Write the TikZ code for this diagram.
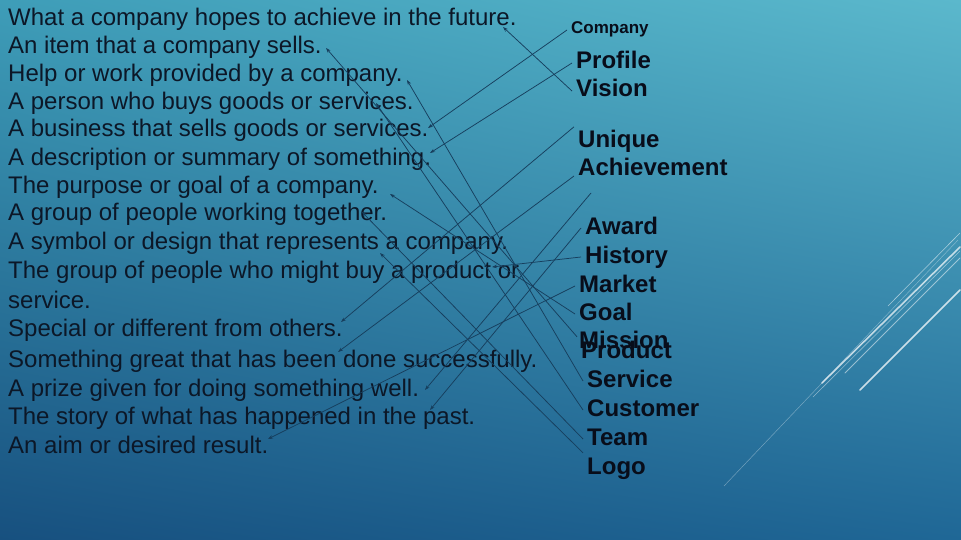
\documentclass[tikz,border=0pt]{standalone}
\usepackage{fontspec}
\setmainfont{Liberation Sans}
\usetikzlibrary{arrows.meta,shadings}

\definecolor{bgul}{HTML}{3E9DB8}
\definecolor{bgur}{HTML}{5BB8CC}
\definecolor{bgll}{HTML}{17507F}
\definecolor{bglr}{HTML}{1F6796}
\definecolor{deftxt}{HTML}{0C1727}
\definecolor{wordtxt}{HTML}{080D1A}
\definecolor{linecol}{HTML}{173F5E}

\tikzset{
  defn/.style={anchor=base west, inner sep=0pt, text=deftxt, font=\fontsize{24}{26}\selectfont},
  word/.style={anchor=base west, inner sep=4pt, text height=17pt, text depth=5pt, text=wordtxt, font=\bfseries\fontsize{24}{26}\selectfont},
  link/.style={draw=linecol, line width=0.75pt},
  deco/.style={draw=white, line cap=round}
}

\begin{document}
\begin{tikzpicture}[x=1pt, y=-1pt, >={Stealth[length=5pt,width=3.5pt]}]
	\useasboundingbox (0,0) rectangle (961,540);
	\shade [upper left=bgul, upper right=bgur, lower left=bgll, lower right=bglr] (0,0) rectangle (961,540);

	% decoration bottom right
	\draw [deco, opacity=0.55, line width=0.6pt] (960,233) -- (888,306);
	\draw [deco, opacity=0.7, line width=1.6pt] (960,247) -- (822,383);
	\draw [deco, opacity=0.45, line width=0.6pt] (960,251) -- (813,397);
	\draw [deco, opacity=0.5, line width=0.8pt] (960,258) -- (845,373);
	\draw [deco, opacity=0.75, line width=1.6pt] (960,290) -- (860,390);
	\draw [deco, opacity=0.35, line width=0.5pt] (958,240) -- (724,486);

	% definitions
	\node at (8,26) [defn] (d1) {What a company hopes to achieve in the future.};
	\node at (8,54) [defn] (d2) {An item that a company sells.};
	\node at (8,82) [defn] (d3) {Help or work provided by a company.};
	\node at (8,110) [defn] (d4) {A person who buys goods or services.};
	\node at (8,137) [defn] (d5) {A business that sells goods or services.};
	\node at (8,166) [defn] (d6) {A description or summary of something.};
	\node at (8,194) [defn] (d7) {The purpose or goal of a company.};
	\node at (8,221) [defn] (d8) {A group of people working together.};
	\node at (8,250) [defn] (d9) {A symbol or design that represents a company.};
	\node at (8,278) [defn] (d10) {The group of people who might buy a product or};
	\node at (8,308) [defn] (d10b) {service.};
	\node at (8,336) [defn] (d11) {Special or different from others.};
	\node at (8,367) [defn] (d12) {Something great that has been done successfully.};
	\node at (8,396) [defn] (d13) {A prize given for doing something well.};
	\node at (8,424) [defn] (d14) {The story of what has happened in the past.};
	\node at (8,453) [defn] (d15) {An aim or desired result.};

	% words
	\node at (567,34) [word, font=\bfseries\fontsize{17}{19}\selectfont, text height=12pt, text depth=4pt] (cmp) {Company};
	\node at (572,69) [word] (prof) {Profile};
	\node at (572,97) [word] (vis) {Vision};
	\node at (574,148) [word] (uniq) {Unique};
	\node at (574,176) [word] (ach) {Achievement};
	\node at (581,234) [word] (awd) {Award};
	\node at (581,263) [word] (hist) {History};
	\node at (575,292) [word] (mkt) {Market};
	\node at (575,320) [word] (goal) {Goal};
	\node at (575,348) [word] (mis) {Mission};
	\node at (577,358) [word] (prod) {Product};
	\node at (583,387) [word] (serv) {Service};
	\node at (583,416) [word] (cust) {Customer};
	\node at (583,445) [word] (team) {Team};
	\node at (583,474) [word] (logo) {Logo};

	% arrow tips
	\coordinate (tcmp) at (428,128);
	\coordinate (tprof) at (430,153);
	\coordinate (tvis) at (503,27);
	\coordinate (tuniq) at (341,322);
	\coordinate (tach) at (338,352);
	\coordinate (gap) at (591,193);
	\coordinate (tgap) at (425,390);
	\coordinate (tawd) at (430,410);
	\coordinate (thist) at (492,267);
	\coordinate (tmkt) at (268,439);
	\coordinate (tgoal) at (390,194);
	\coordinate (tprod) at (326,48);
	\coordinate (tserv) at (407,80);
	\coordinate (tcust) at (376,103);
	\coordinate (tteam) at (362,212);
	\coordinate (tlogo) at (380,253);

	\draw [link] (cmp.west) edge [->] (tcmp);
	\draw [link] (prof.west) edge [->] (tprof);
	\draw [link] (vis.west) edge [->] (tvis);
	\draw [link] (uniq.north west) edge [->] (tuniq);
	\draw [link] (ach.base west) edge [->] (tach);
	\draw [link] (gap) edge [->] (tgap);
	\draw [link] (awd.west) edge [->] (tawd);
	\draw [link] (hist.west) edge [->] (thist);
	\draw [link] (mkt.west) edge [->] (tmkt);
	\draw [link] (goal.west) edge [->] (tgoal);
	\draw [link] (prod.north west) edge [->] (tprod);
	\draw [link] (serv.west) edge [->] (tserv);
	\draw [link] (cust.west) edge [->] (tcust);
	\draw [link] (team.west) edge [->] (tteam);
	\draw [link] (logo.north west) edge [->] (tlogo);
\end{tikzpicture}
\end{document}
